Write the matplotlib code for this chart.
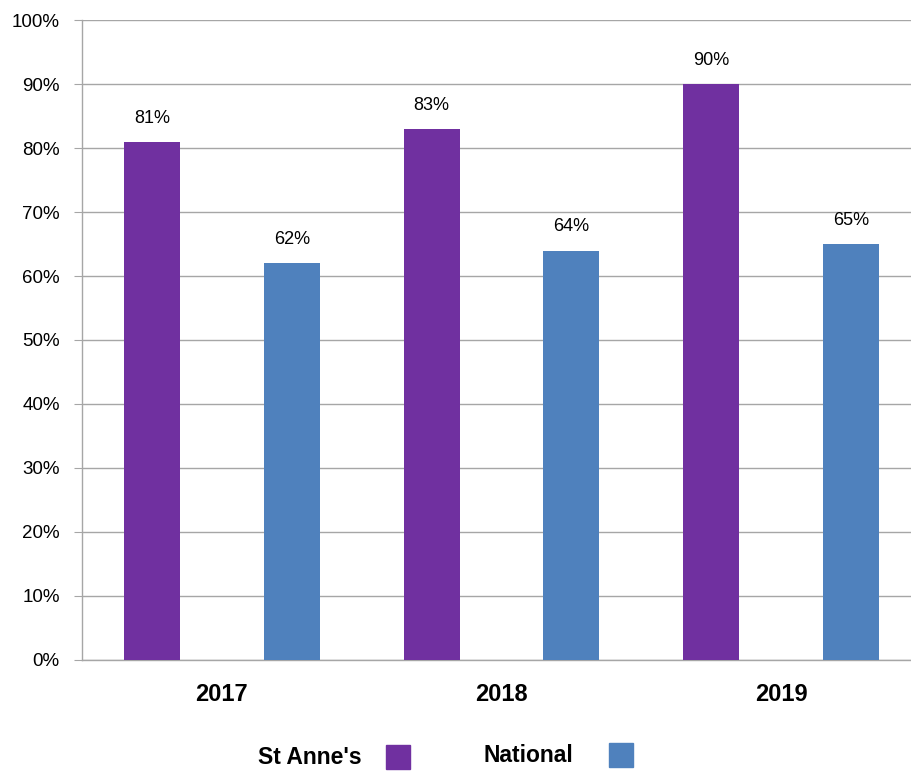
"""Grouped bar chart: St Anne's vs National, 2017-2019."""

import matplotlib.pyplot as plt
import numpy as np
from matplotlib.patches import Rectangle
from matplotlib.ticker import FuncFormatter, MultipleLocator


YEARS = ["2017", "2018", "2019"]
ST_ANNES = [81, 83, 90]
NATIONAL = [62, 64, 65]
SERIES = ["St Anne's", "National"]
COLORS = ["#7030A0", "#4F81BD"]
GRID_COLOR = "#A6A6A6"

W, H = 912, 773


def main():
    plt.rcParams["font.family"] = ["Liberation Sans", "DejaVu Sans"]
    fig = plt.figure(figsize=(W / 100, H / 100), dpi=100)
    # axes spans past the right edge, like the cropped original
    ax = fig.add_axes([82 / W, (H - 659.5) / H, 839 / W, 639 / H])

    x = np.arange(len(YEARS))
    width = 0.2
    offset = 0.25
    for vals, color, sign in ((ST_ANNES, COLORS[0], -1), (NATIONAL, COLORS[1], 1)):
        bars = ax.bar(x + sign * offset, vals, width, color=color, zorder=3)
        for bar, v in zip(bars, vals):
            ax.text(bar.get_x() + bar.get_width() / 2, v + 2.4, f"{v}%",
                    ha="center", va="bottom", fontsize=13, color="black")

    ax.set_xlim(-0.5, len(YEARS) - 0.5)
    ax.set_ylim(0, 100)
    ax.yaxis.set_major_locator(MultipleLocator(10))
    ax.yaxis.set_major_formatter(FuncFormatter(lambda v, _: f"{v:.0f}%"))
    ax.grid(axis="y", color=GRID_COLOR, linewidth=1.0, zorder=0)
    ax.set_xticks(x)
    ax.set_xticklabels(YEARS, fontsize=17, fontweight="bold")
    ax.tick_params(axis="x", length=0, pad=17)
    ax.tick_params(axis="y", length=6, color=GRID_COLOR, labelsize=13.5, pad=10)

    for side in ("top", "right"):
        ax.spines[side].set_visible(False)
    for side in ("left", "bottom"):
        ax.spines[side].set_color(GRID_COLOR)
        ax.spines[side].set_linewidth(1.0)

    # legend: label followed by colour square
    legend_items = [(SERIES[0], COLORS[0], 258, 386, 757), (SERIES[1], COLORS[1], 484, 609, 755)]
    for label, color, tx, sx, cy in legend_items:
        fig.text(tx / W, (H - cy) / H, label, fontsize=16.5, fontweight="bold",
                 ha="left", va="center")
        fig.patches.append(Rectangle((sx / W, (H - cy - 12) / H), 24 / W, 24 / H,
                                     transform=fig.transFigure, color=color))

    fig.savefig("out.png", dpi=100)


if __name__ == "__main__":
    main()
